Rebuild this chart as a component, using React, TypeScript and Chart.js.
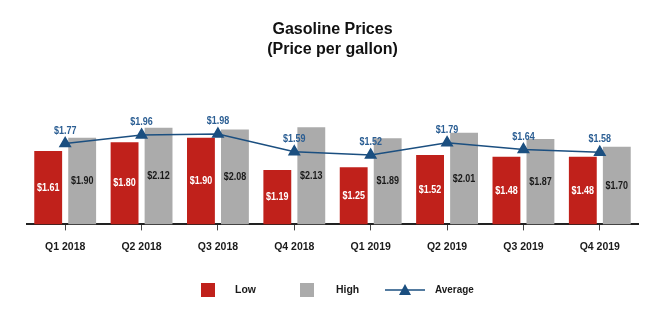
import { useEffect, useRef } from "react";
import { Chart, registerables } from "chart.js";

Chart.register(...registerables);

const categories = ["Q1 2018", "Q2 2018", "Q3 2018", "Q4 2018", "Q1 2019", "Q2 2019", "Q3 2019", "Q4 2019"];
const lowValues = [1.61, 1.8, 1.9, 1.19, 1.25, 1.52, 1.48, 1.48];
const highValues = [1.9, 2.12, 2.08, 2.13, 1.89, 2.01, 1.87, 1.7];
const averageValues = [1.77, 1.96, 1.98, 1.59, 1.52, 1.79, 1.64, 1.58];
const titleLines = ["Gasoline Prices", "(Price per gallon)"];

const FONT = '"Liberation Sans", Arial, sans-serif';
const RED = "#C0211B";
const GREY = "#ABABAB";
const BLUE = "#1B4F80";
const LABEL_BLUE = "#2B5E93";

function condensedText(ctx: CanvasRenderingContext2D, text: string, x: number, y: number, sx: number) {
  ctx.save();
  ctx.translate(x, y);
  ctx.scale(sx, 1);
  ctx.fillText(text, 0, 0);
  ctx.restore();
}

const valueLabels = {
  id: "valueLabels",
  afterDatasetsDraw(chart: any) {
    const ctx = chart.ctx;
    ctx.save();
    ctx.textAlign = "center";
    ctx.textBaseline = "middle";
    ctx.font = `bold 11.5px ${FONT}`;
    chart.data.datasets.forEach((ds: any, i: number) => {
      const meta = chart.getDatasetMeta(i);
      meta.data.forEach((el: any, j: number) => {
        const v = ds.data[j] as number;
        const text = "$" + v.toFixed(2);
        if (meta.type === "bar") {
          const p = el.getProps(["x", "y", "base"], true);
          ctx.fillStyle = i === 0 ? "#FFFFFF" : "#1A1A1A";
          condensedText(ctx, text, p.x, (p.y + p.base) / 2, 0.78);
        } else {
          const p = el.getProps(["x", "y"], true);
          ctx.fillStyle = LABEL_BLUE;
          condensedText(ctx, text, p.x, p.y - 13, 0.78);
        }
      });
    });
    ctx.restore();
  },
};

const customLegend = {
  id: "customLegend",
  afterDraw(chart: any) {
    const ctx = chart.ctx;
    const cx = chart.width / 2 - 7;
    const y = 282;
    ctx.save();
    ctx.font = `bold 11px ${FONT}`;
    ctx.textBaseline = "middle";
    ctx.textAlign = "left";
    // Low
    ctx.fillStyle = RED;
    ctx.fillRect(cx - 128, y - 7, 14, 14);
    ctx.fillStyle = "#1A1A1A";
    condensedText(ctx, "Low", cx - 94, y, 0.95);
    // High
    ctx.fillStyle = GREY;
    ctx.fillRect(cx - 29, y - 7, 14, 14);
    ctx.fillStyle = "#1A1A1A";
    condensedText(ctx, "High", cx + 7, y, 0.95);
    // Average
    ctx.strokeStyle = BLUE;
    ctx.lineWidth = 1.5;
    ctx.beginPath();
    ctx.moveTo(cx + 56, y);
    ctx.lineTo(cx + 96, y);
    ctx.stroke();
    ctx.fillStyle = BLUE;
    ctx.beginPath();
    ctx.moveTo(cx + 76, y - 6);
    ctx.lineTo(cx + 82, y + 5);
    ctx.lineTo(cx + 70, y + 5);
    ctx.closePath();
    ctx.fill();
    ctx.fillStyle = "#1A1A1A";
    condensedText(ctx, "Average", cx + 106, y, 0.9);
    ctx.restore();
  },
};

export default function App() {
  const ref = useRef<HTMLCanvasElement | null>(null);
  useEffect(() => {
    if (!ref.current) return;
    const chart = new Chart(ref.current, {
      type: "bar",
      data: {
        labels: categories,
        datasets: [
          {
            type: "bar",
            label: "Low",
            data: lowValues,
            backgroundColor: RED,
            categoryPercentage: 0.89,
            barPercentage: 0.82,
            order: 2,
          },
          {
            type: "bar",
            label: "High",
            data: highValues,
            backgroundColor: GREY,
            categoryPercentage: 0.89,
            barPercentage: 0.82,
            order: 2,
          },
          {
            type: "line",
            label: "Average",
            data: averageValues,
            borderColor: BLUE,
            backgroundColor: BLUE,
            borderWidth: 1.5,
            pointStyle: "triangle",
            pointRadius: 6,
            pointBackgroundColor: BLUE,
            pointBorderColor: BLUE,
            tension: 0,
            order: 0,
            clip: false,
          } as any,
        ],
      },
      options: {
        responsive: false,
        animation: false,
        layout: { padding: { left: 19, right: 26, top: 0, bottom: 55 } },
        plugins: {
          legend: { display: false },
          tooltip: { enabled: false },
          title: {
            display: true,
            text: titleLines,
            color: "#111111",
            font: { family: FONT, size: 16, weight: "bold", lineHeight: 1.25 },
            padding: { top: 11.5, bottom: 50.8 },
          },
        },
        scales: {
          x: {
            offset: true,
            grid: {
              display: true,
              offset: false,
              drawOnChartArea: false,
              drawTicks: true,
              tickLength: 6,
              color: "#444444",
              lineWidth: 1,
            },
            border: { display: true, color: "#222222", width: 2 },
            ticks: {
              color: "#1A1A1A",
              padding: 10,
              font: { family: FONT, size: 10.5, weight: "bold" },
            },
          },
          y: {
            display: false,
            min: 0,
            max: 2.5,
          },
        },
      },
      plugins: [valueLabels, customLegend],
    });
    return () => chart.destroy();
  }, []);
  return (
    <div style={{ width: 656, height: 310 }}>
      <canvas ref={ref} width={656} height={310} />
    </div>
  );
}
